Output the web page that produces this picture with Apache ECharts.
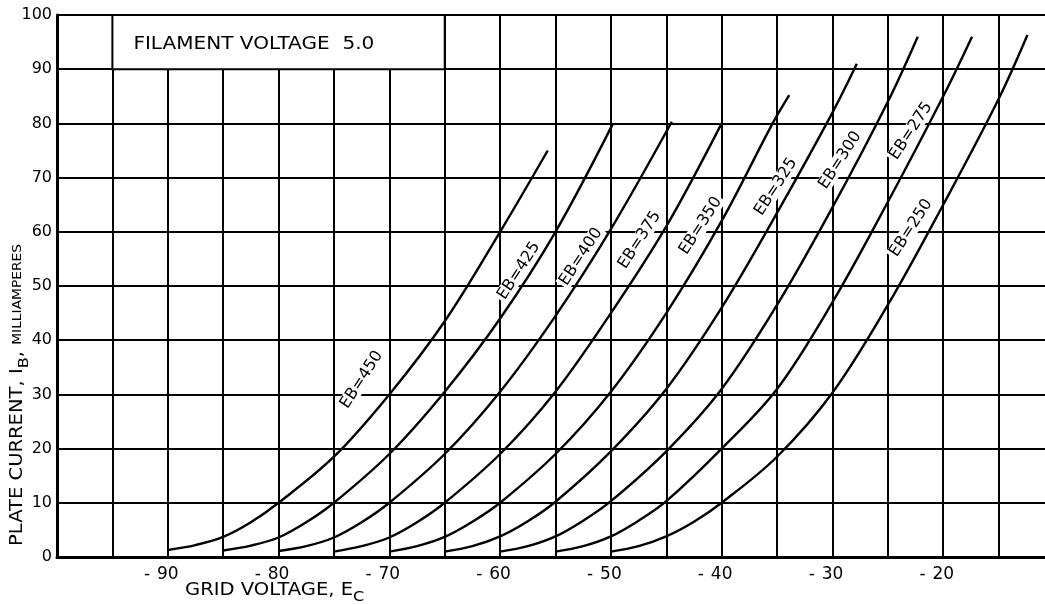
<!DOCTYPE html>
<html>
<head>
<meta charset="utf-8">
<script src="https://cdn.jsdelivr.net/npm/echarts@6/dist/echarts.min.js"></script>
<style>
html,body{margin:0;padding:0;background:#fff;}
#chart{width:1045px;height:605px;}
</style>
</head>
<body>
<div id="chart"></div>
<script>
// ---- data ----
const xTickLabels = [-90, -80, -70, -60, -50, -40, -30, -20];
const yTickLabels = [0, 10, 20, 30, 40, 50, 60, 70, 80, 90, 100];

const eb450 = [[-90, 1.3], [-87.5, 2.2], [-85, 3.7], [-82.5, 6.4], [-80, 10], [-75, 18.5], [-70, 30], [-65, 43.5], [-60, 60], [-55.7, 75]];
const eb425 = [[-85, 1.2], [-82.5, 2.1], [-80, 3.6], [-77.5, 6.4], [-75, 10], [-70, 19], [-65, 30.5], [-60, 44], [-55, 60], [-49.8, 80]];
const eb400 = [[-80, 1.1], [-77.5, 2.0], [-75, 3.6], [-72.5, 6.4], [-70, 10], [-65, 19], [-60, 30.5], [-55, 44.5], [-50, 60.5], [-44.5, 80.3]];
const eb375 = [[-75, 1.0], [-72.5, 2.0], [-70, 3.6], [-67.5, 6.4], [-65, 10], [-60, 19], [-55, 30.5], [-50, 45], [-45, 61], [-40, 80]];
const eb350 = [[-70, 1.0], [-67.5, 2.0], [-65, 3.7], [-62.5, 6.5], [-60, 10], [-55, 19], [-50, 30.5], [-45, 45], [-40, 62], [-35.4, 80], [-33.9, 85.2]];
const eb325 = [[-65, 1.0], [-62.5, 2.0], [-60, 3.8], [-57.5, 6.6], [-55, 10.2], [-50, 19.5], [-45, 31], [-40, 46], [-35, 63.5], [-30, 82], [-27.8, 91]];
const eb300 = [[-60, 1.0], [-57.5, 2.0], [-55, 3.8], [-52.5, 6.7], [-50, 10.3], [-45, 19.5], [-40, 31], [-35, 46.5], [-30, 64.5], [-25, 84], [-22.3, 96]];
const eb275 = [[-55, 1.0], [-52.5, 2.0], [-50, 3.8], [-47.5, 6.7], [-45, 10.3], [-40, 20], [-35, 31], [-30, 47], [-25, 65.5], [-20, 85], [-17.4, 96]];
const eb250 = [[-50, 1.0], [-47.5, 2.0], [-45, 3.8], [-42.5, 6.5], [-40, 10], [-35, 18.5], [-30, 30.3], [-25, 46.5], [-20, 65], [-15, 84.5], [-12.4, 96.3]];

const curves = [eb450, eb425, eb400, eb375, eb350, eb325, eb300, eb275, eb250];
const curveNames = ['EB=450', 'EB=425', 'EB=400', 'EB=375', 'EB=350', 'EB=325', 'EB=300', 'EB=275', 'EB=250'];
// where each curve's label sits (data coordinates)
const labelAnchors = [[-72.5, 32.7], [-58.3, 52.8], [-52.7, 55.4], [-47.4, 58.5], [-41.9, 61.1], [-35.1, 68.3], [-29.3, 73.2], [-22.9, 78.6], [-22.9, 60.7]];

const noteText = 'FILAMENT VOLTAGE  5.0';
const noteBox = [[-95, 90], [-65, 100]];
const noteAnchor = [-95, 95];
const xTitle = 'GRID VOLTAGE, ';
const xTitleSub = 'C';
const yTitleMain = 'PLATE CURRENT, I';
const yTitleSub = 'B';
const yTitleUnit = 'MILLIAMPERES';

// ---- chart ----
const FONT = '"DejaVu Sans", "Liberation Sans", sans-serif';
const INK = '#000';
const chart = echarts.init(document.getElementById('chart'), null, {renderer: 'canvas'});

const series = curves.map((c, i) => ({
  type: 'line',
  name: curveNames[i],
  data: c,
  smooth: 0.35,
  symbol: 'none',
  silent: true,
  z: 5,
  lineStyle: {color: INK, width: 2.4},
  emphasis: {disabled: true}
}));

series.push({
  type: 'scatter',
  z: 4,
  silent: true,
  symbolSize: 0,
  itemStyle: {opacity: 1, color: '#000'},
  data: labelAnchors.map((p, i) => ({value: p, name: curveNames[i]})),
  label: {
    show: true,
    position: 'inside',
    formatter: '{b}',
    rotate: 57,
    fontFamily: FONT,
    fontSize: 16,
    color: INK,
    opacity: 1,
    textBorderWidth: 0,
    textBorderColor: 'transparent',
    textShadowBlur: 0,
    backgroundColor: '#fff',
    padding: [0, 2]
  },
  emphasis: {disabled: true},
  markArea: {
    silent: true,
    itemStyle: {color: '#fff', borderColor: INK, borderWidth: 2, opacity: 1},
    label: {show: false},
    emphasis: {disabled: true},
    data: [[{coord: noteBox[0]}, {coord: noteBox[1]}]]
  }
});

const option = {
  animation: false,
  backgroundColor: '#fff',
  grid: {left: 57, right: -9, top: 15, bottom: 48, containLabel: false, outerBoundsMode: 'none'},
  xAxis: {
    type: 'value',
    min: -100,
    max: -10,
    interval: 5,
    axisLine: {show: true, onZero: false, lineStyle: {color: INK, width: 3}},
    axisTick: {show: false},
    splitLine: {show: true, lineStyle: {color: INK, width: 2}},
    axisLabel: {
      show: true,
      margin: 9,
      showMinLabel: true,
      showMaxLabel: false,
      formatter: v => xTickLabels.includes(v) ? '{m|-}{d|' + Math.abs(v) + '}{p|}' : '',
      rich: {
        m: {width: 13, fontFamily: FONT, fontSize: 17, color: INK, align: 'left'},
        d: {fontFamily: FONT, fontSize: 17, color: INK},
        p: {width: 13}
      }
    }
  },
  yAxis: {
    type: 'value',
    min: 0,
    max: 100,
    interval: 10,
    axisLine: {show: true, lineStyle: {color: INK, width: 3}},
    axisTick: {show: false},
    splitLine: {show: true, lineStyle: {color: INK, width: 2}},
    axisLabel: {
      margin: 5,
      fontFamily: FONT,
      fontSize: 16,
      color: INK,
      formatter: v => yTickLabels.includes(v) ? String(v) : ''
    }
  },
  graphic: [
    {
      type: 'text',
      x: 185, y: 591,
      scaleX: 1.15,
      silent: true,
      style: {
        text: '{a|' + xTitle + 'E}{b|' + xTitleSub + '}',
        verticalAlign: 'middle',
        align: 'left',
        rich: {
          a: {fontFamily: FONT, fontSize: 17, fill: INK, lineHeight: 26, verticalAlign: 'middle'},
          b: {fontFamily: FONT, fontSize: 14, fill: INK, lineHeight: 26, verticalAlign: 'bottom'}
        }
      }
    },
    {
      type: 'text',
      x: 18, y: 546,
      rotation: Math.PI / 2,
      scaleX: 1.15,
      silent: true,
      style: {
        text: '{a|' + yTitleMain + '}{b|' + yTitleSub + '}{a|, }{c|' + yTitleUnit + '}',
        verticalAlign: 'middle',
        align: 'left',
        rich: {
          a: {fontFamily: FONT, fontSize: 17, fill: INK, lineHeight: 26, verticalAlign: 'middle'},
          b: {fontFamily: FONT, fontSize: 14, fill: INK, lineHeight: 26, verticalAlign: 'bottom'},
          c: {fontFamily: FONT, fontSize: 12, fill: INK, lineHeight: 26, verticalAlign: 'middle'}
        }
      }
    }
  ],
  series: series
};

chart.setOption(option);

// note text inside the box, placed from the axis scales
const notePx = chart.convertToPixel({gridIndex: 0}, noteAnchor);
chart.setOption({
  graphic: [
    {}, {},
    {
      type: 'text',
      x: notePx[0] + 21, y: notePx[1] + 2,
      scaleX: 1.18,
      silent: true,
      z: 10,
      style: {
        text: noteText,
        fontFamily: FONT,
        fontSize: 17,
        fill: INK,
        align: 'left',
        verticalAlign: 'middle'
      }
    }
  ]
});
</script>
</body>
</html>
